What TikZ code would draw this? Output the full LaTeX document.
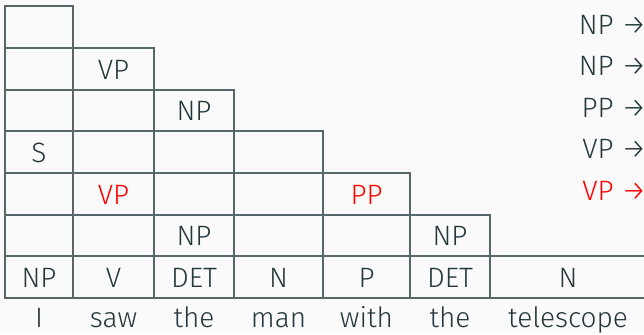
\documentclass[tikz,border=0pt]{standalone}
\usepackage{fontspec}
\setmainfont{Fira Sans Light}
\usetikzlibrary{positioning}
\definecolor{cfg}{HTML}{23373B}
\definecolor{cline}{HTML}{56676A}
\definecolor{cbg}{HTML}{FAFAFA}
\definecolor{cred}{HTML}{FF0000}

\begin{document}
\begin{tikzpicture}[x=0.5pt, y=-0.5pt,
    cellline/.style={draw=cline, line width=0.6pt},
    lbl/.style={font=\fontsize{14}{16}\selectfont, text=cfg, inner sep=0pt, text height=12pt, text depth=2pt},
    hot/.style={lbl, text=cred},
    rulelbl/.style={lbl, anchor=east}]
    \fill[cbg] (0,0) rectangle (644,334);
    \clip (0,0) rectangle (644,334);
    \def\colx{{5,73,154,234,323,410,490,646}}
    \def\rowy{{6,48,90,131,173,215,256,298}}
    % chart cells
    \foreach \r in {0,...,6} {
        \foreach \c in {0,...,\r} {
            \pgfmathsetmacro\xl{\colx[\c]}
            \pgfmathsetmacro\xr{\c==6 ? 700 : \colx[\c+1]}
            \pgfmathsetmacro\yt{\rowy[\r]}
            \pgfmathsetmacro\yb{\rowy[\r+1]}
            \draw[cellline] (\xl,\yt) rectangle (\xr,\yb);
        }
    }
    % cell entries
    \foreach \r/\c/\t/\s in {1/1/VP/lbl, 2/2/NP/lbl, 3/0/S/lbl, 4/1/VP/hot, 4/4/PP/hot,
            5/2/NP/lbl, 5/5/NP/lbl, 6/0/NP/lbl, 6/1/V/lbl, 6/2/DET/lbl, 6/3/N/lbl,
            6/4/P/lbl, 6/5/DET/lbl, 6/6/N/lbl} {
        \pgfmathsetmacro\xl{\colx[\c]}
        \pgfmathsetmacro\xr{\colx[\c+1]}
        \pgfmathsetmacro\yt{\rowy[\r]}
        \pgfmathsetmacro\yb{\rowy[\r+1]}
        \node[\s] (l-\r-\c) at ({(\xl+\xr)/2},{(\yt+\yb)/2}) {\t};
    }
    % sentence
    \foreach \c/\w in {0/I, 1/saw, 2/the, 3/man, 4/with, 5/the, 6/telescope} {
        \pgfmathsetmacro\xl{\colx[\c]}
        \pgfmathsetmacro\xr{\colx[\c+1]}
        \node[lbl] (w\c) at ({(\xl+\xr)/2},317) {\w};
    }
    % grammar rules
    \node[rulelbl] (r1) at (647,24) {NP →};
    \node[rulelbl] (r2) at (647,65) {NP →};
    \node[rulelbl] (r3) at (647,107) {PP →};
    \node[rulelbl] (r4) at (647,148) {VP →};
    \node[rulelbl, text=cred] (r5) at (647,190) {VP →};
\end{tikzpicture}
\end{document}
